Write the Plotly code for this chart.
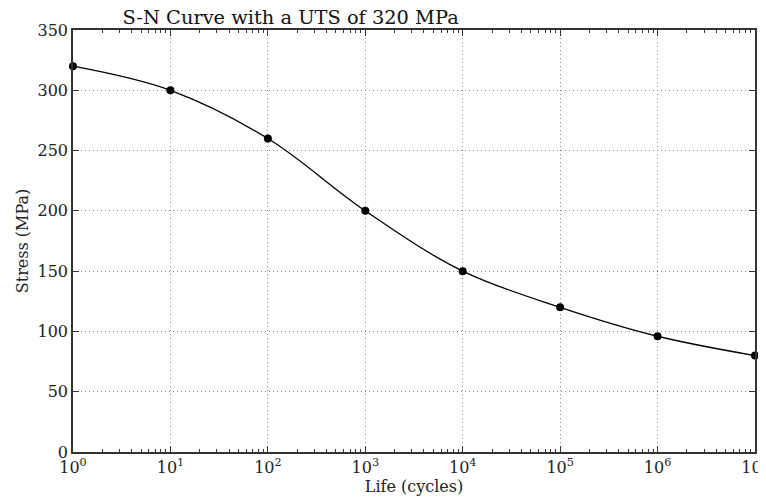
import plotly.graph_objects as go

life_cycles = [1, 10, 100, 1000, 1e4, 1e5, 1e6, 1e7]
stress_mpa = [320, 300, 260, 200, 150, 120, 96, 80]

x_tickvals = [10**i for i in range(8)]
x_ticktext = [f"10<sup>{i}</sup>" for i in range(8)]
x_minor = [m * 10**i for i in range(7) for m in range(2, 10)]
y_tickvals = list(range(0, 351, 50))

FONT = "DejaVu Serif"

fig = go.Figure()
fig.add_trace(go.Scatter(
    x=life_cycles, y=stress_mpa, mode="lines+markers",
    line=dict(color="black", width=1.3, shape="spline", smoothing=1.0),
    marker=dict(color="black", size=8),
    cliponaxis=False,
    showlegend=False,
))

axis_common = dict(
    showline=True, linecolor="#333", linewidth=1.5, mirror="ticks",
    ticks="inside", ticklen=6, tickcolor="#333", tickwidth=1,
    showgrid=True, gridcolor="#888", griddash="1px,3px", gridwidth=1,
    zeroline=False, automargin=False, ticklabeloverflow="allow",
    tickfont=dict(family=FONT, size=16, color="#222"),
)

fig.update_xaxes(
    type="log", range=[0, 7], tickvals=x_tickvals, ticktext=x_ticktext,
    minor=dict(ticks="inside", ticklen=3, tickcolor="#333", tickvals=x_minor, showgrid=False),
    title=dict(text="Life (cycles)", font=dict(family=FONT, size=16, color="#222"), standoff=4),
    **axis_common,
)
fig.update_yaxes(
    range=[0, 350], tickvals=y_tickvals,
    title=dict(text="Stress (MPa)", font=dict(family=FONT, size=16, color="#222"), standoff=5),
    **axis_common,
)

fig.update_layout(
    width=758, height=491,
    margin=dict(l=65, r=11, t=22, b=47),
    plot_bgcolor="white", paper_bgcolor="white",
    title=dict(text="S-N Curve with a UTS of 320 MPa", xref="paper", x=0.319, xanchor="center",
               yref="paper", y=1, yanchor="bottom", pad=dict(b=6),
               font=dict(family=FONT, size=19.4, color="#111")),
)

fig.write_html("out.html")
